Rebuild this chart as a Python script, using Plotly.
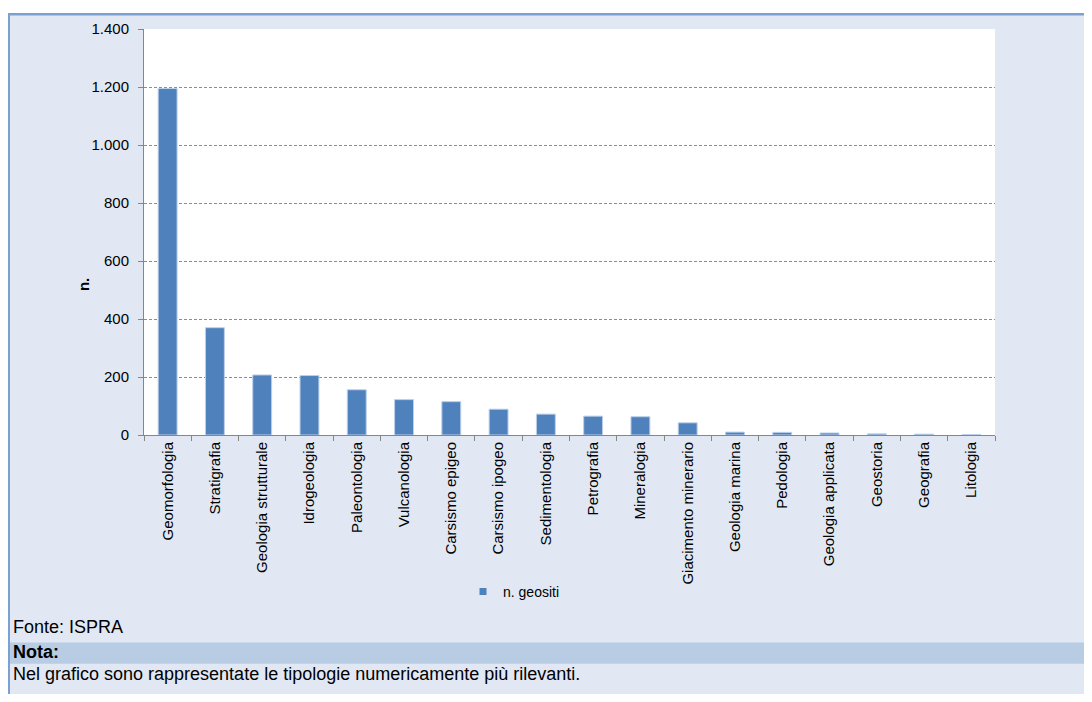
import plotly.graph_objects as go

categories = ["Geomorfologia", "Stratigrafia", "Geologia strutturale", "Idrogeologia",
              "Paleontologia", "Vulcanologia", "Carsismo epigeo", "Carsismo ipogeo",
              "Sedimentologia", "Petrografia", "Mineralogia", "Giacimento minerario",
              "Geologia marina", "Pedologia", "Geologia applicata", "Geostoria",
              "Geografia", "Litologia"]
values = [1195, 370, 207, 205, 156, 122, 115, 89, 72, 65, 63, 42, 10, 9, 7, 4, 3, 1]
series_name = "n. geositi"
y_ticks = [0, 200, 400, 600, 800, 1000, 1200, 1400]

# the page adds an 8px margin around the figure
OFF = 8
W, H = 1092 - OFF, 702 - 2 * OFF
L, R, T, B = 144 - OFF, 995 - OFF, 26 - OFF, 435 - OFF  # plot area (figure pixels)


def px(x):
    return (x - OFF - L) / (R - L)


def py(y):
    return (B - (y - OFF)) / (B - T)


BAR = "#4f81bd"
BG = "#e1e8f4"
BORDER = "#7ba1d3"
NOTA = "#b8cce4"
FONT = "Liberation Sans, Arial, sans-serif"

fig = go.Figure()
fig.add_trace(go.Bar(
    x=categories, y=values, name=series_name, showlegend=False,
    marker=dict(color=BAR, line=dict(color="#bcd0ea", width=1)),
))
fig.add_trace(go.Scatter(
    x=[None], y=[None], mode="markers", name=series_name, showlegend=True,
    marker=dict(symbol="square", size=7, color=BAR),
))

shapes = [
    # white strip at top
    dict(type="rect", xref="paper", yref="paper", x0=px(0), x1=px(1100), y0=py(0), y1=py(10.5),
         fillcolor="white", line=dict(width=0), layer="below"),
    # top border
    dict(type="rect", xref="paper", yref="paper", x0=px(8), x1=px(1100), y0=py(10), y1=py(12.5),
         fillcolor=BORDER, line=dict(width=0), layer="below"),
    # left border
    dict(type="rect", xref="paper", yref="paper", x0=px(8), x1=px(10), y0=py(10), y1=py(710),
         fillcolor=BORDER, line=dict(width=0), layer="below"),
    # Nota band
    dict(type="rect", xref="paper", yref="paper", x0=px(10), x1=px(1100), y0=py(644), y1=py(665.5),
         fillcolor=NOTA, line=dict(width=0), layer="below"),
]

annotations = [
    dict(text="<b>n.</b>", xref="paper", yref="paper", x=px(83), y=py(284), textangle=-90,
         showarrow=False, font=dict(size=15, color="black", family=FONT),
         xanchor="center", yanchor="middle"),
    dict(text="Fonte: ISPRA", xref="paper", yref="paper", x=px(11), y=py(628),
         showarrow=False, font=dict(size=18, color="black", family=FONT),
         xanchor="left", yanchor="middle"),
    dict(text="<b>Nota:</b>", xref="paper", yref="paper", x=px(11), y=py(654),
         showarrow=False, font=dict(size=18, color="black", family=FONT),
         xanchor="left", yanchor="middle"),
    dict(text="Nel grafico sono rappresentate le tipologie numericamente più rilevanti.",
         xref="paper", yref="paper", x=px(11), y=py(676),
         showarrow=False, font=dict(size=18, color="black", family=FONT),
         xanchor="left", yanchor="middle"),
]

fig.update_layout(
    width=W, height=H,
    margin=dict(l=L, r=W - R, t=T, b=H - B, pad=0),
    paper_bgcolor=BG, plot_bgcolor="white",
    separators=",.",
    bargap=0.6,
    font=dict(family=FONT, size=14, color="black"),
    showlegend=True,
    legend=dict(orientation="h", x=px(463), y=py(593), xanchor="left", yanchor="middle",
                font=dict(size=14, color="black", family=FONT), bgcolor="rgba(0,0,0,0)",
                itemwidth=30),
    shapes=shapes,
    annotations=annotations,
)

fig.update_xaxes(
    type="category", categoryorder="array", categoryarray=categories,
    tickangle=-90, ticks="outside", ticklen=5, tickcolor="#868686",
    tickson="boundaries", showline=True, linecolor="#868686", linewidth=1,
    showgrid=False, tickfont=dict(size=15, color="black", family=FONT),
)
fig.update_yaxes(
    range=[0, 1400], tickvals=y_ticks, tickformat=",d",
    ticks="outside", ticklen=5, tickcolor="#868686", ticklabelstandoff=6,
    showline=True, linecolor="#868686", linewidth=1,
    showgrid=True, gridcolor="#8c8c8c", gridwidth=1, griddash="3px,2px",
    zeroline=False, tickfont=dict(size=15, color="black", family=FONT),
)

fig.write_html("out.html")
